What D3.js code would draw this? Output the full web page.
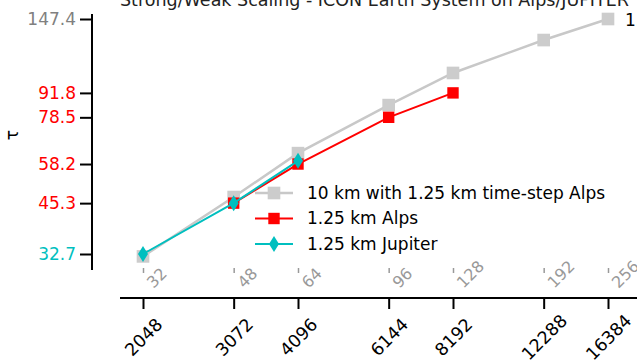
<html>
<head>
<script src="https://d3js.org/d3.v7.min.js"></script>
<style>
  body { margin: 0; background: #fff; }
  text { font-family: "DejaVu Sans", sans-serif; }
</style>
</head>
<body>
<svg width="637" height="361"></svg>
<script>
const cores = [2048, 3072, 4096, 6144, 8192, 12288, 16384];
const nodes = [32, 48, 64, 96, 128, 192, 256];
const refTau = [32.2, 47.1, 62.4, 84.9, 104.3, 128.8, 147.4];
const alpsCores = [3072, 4096, 6144, 8192];
const alpsTau = [45.3, 58.2, 78.5, 91.8];
const jupCores = [2048, 3072, 4096];
const jupTau = [32.7, 45.3, 59.4];
const yTicks = [147.4, 91.8, 78.5, 58.2, 45.3, 32.7];
const yTickColor = ['#808080', 'red', 'red', 'red', 'red', '#00bfbf'];

const svg = d3.select('svg');
const x = d3.scaleLog().base(2).domain([2048, 16384]).range([143, 608]);
const y = d3.scaleLog().domain([32.7, 147.4]).range([254, 19]);

// title, mostly cut off at the top
svg.append('text').attr('x', 120).attr('y', 5.5)
  .style('font-size', '17.5px').style('fill', '#222')
  .text('Strong/Weak Scaling - ICON Earth System on Alps/JUPITER');

// y axis
const ya = svg.append('g').attr('transform', 'translate(92,0)')
  .call(d3.axisLeft(y).tickValues(yTicks).tickFormat(d3.format('.1f')).tickSize(12).tickPadding(4));
ya.select('.domain').attr('d', 'M0,14V270').attr('stroke-width', 2);
ya.selectAll('.tick line').attr('stroke-width', 2);
ya.selectAll('.tick text').style('font-size', '17px')
  .attr('fill', (d, i) => yTickColor[i]);

svg.append('text').attr('transform', 'translate(18,135) rotate(-90)')
  .style('font-size', '17px').attr('text-anchor', 'middle').text('τ');

// bottom x axis
const xa = svg.append('g').attr('transform', 'translate(0,298)')
  .call(d3.axisBottom(x).tickValues(cores).tickFormat(d3.format('d')).tickSize(11));
xa.select('.domain').attr('d', 'M120,0H637').attr('stroke-width', 2);
xa.selectAll('.tick line').attr('stroke-width', 2);
xa.selectAll('.tick text').style('font-size', '17.5px')
  .attr('text-anchor', 'middle').attr('y', 0).attr('dy', '0.36em')
  .attr('transform', 'translate(0,39) rotate(-45)');

// secondary node labels
const nx = d3.scaleLog().base(2).domain([32, 256]).range(x.range());
const na = svg.append('g').attr('transform', 'translate(0,268)')
  .call(d3.axisBottom(nx).tickValues(nodes).tickFormat(d3.format('d')).tickSize(5).tickPadding(0));
na.select('.domain').remove();
na.selectAll('.tick line').attr('stroke', '#999').attr('stroke-width', 1.5);
na.selectAll('.tick text').style('font-size', '16px').attr('fill', '#999')
  .attr('text-anchor', 'start').attr('dy', null).attr('y', 0)
  .attr('transform', 'translate(10,21) rotate(-45)');

const line = d3.line().x(d => x(d[0])).y(d => y(d[1]));
const sq = d3.symbol().type(d3.symbolSquare);

// 10 km reference
const refPts = cores.map((c, i) => [c, refTau[i]]);
svg.append('path').datum(refPts).attr('d', line)
  .attr('fill', 'none').attr('stroke', '#c8c8c8').attr('stroke-width', 2.5);
svg.selectAll('.ref').data(refPts).join('path').attr('class', 'ref')
  .attr('transform', d => `translate(${x(d[0])},${y(d[1])})`)
  .attr('d', sq.size(160)).attr('fill', '#cccccc');

// Alps
const alpsPts = alpsCores.map((c, i) => [c, alpsTau[i]]);
svg.append('path').datum(alpsPts).attr('d', line)
  .attr('fill', 'none').attr('stroke', 'red').attr('stroke-width', 2);
svg.selectAll('.alps').data(alpsPts).join('path').attr('class', 'alps')
  .attr('transform', d => `translate(${x(d[0])},${y(d[1])})`)
  .attr('d', sq.size(130)).attr('fill', 'red');

// Jupiter
const diamond = 'M0,-8L5,0L0,8L-5,0Z';
const jupPts = jupCores.map((c, i) => [c, jupTau[i]]);
svg.append('path').datum(jupPts).attr('d', line)
  .attr('fill', 'none').attr('stroke', '#00bfbf').attr('stroke-width', 2);
svg.selectAll('.jup').data(jupPts).join('path').attr('class', 'jup')
  .attr('transform', d => `translate(${x(d[0])},${y(d[1])})`)
  .attr('d', diamond).attr('fill', '#00bfbf');

// clipped annotation at top right
svg.append('text').attr('x', 625).attr('y', 26)
  .style('font-size', '17px').text('1.25 km');

// legend
const legend = [
  { label: '10 km with 1.25 km time-step Alps', color: '#c8c8c8', mk: '#cccccc', size: 160, w: 2.5 },
  { label: '1.25 km Alps', color: 'red', mk: 'red', size: 130, w: 2 },
  { label: '1.25 km Jupiter', color: '#00bfbf', mk: '#00bfbf', size: 0, w: 2 }
];
const lg = svg.append('g').attr('transform', 'translate(255,193)');
legend.forEach((d, i) => {
  const g = lg.append('g').attr('transform', `translate(0,${i * 25.5})`);
  g.append('line').attr('x1', 0).attr('x2', 38).attr('stroke', d.color).attr('stroke-width', d.w);
  g.append('path').attr('transform', 'translate(19,0)')
    .attr('d', d.size ? sq.size(d.size)() : diamond)
    .attr('fill', d.mk);
  g.append('text').attr('x', 52).attr('dy', '0.35em').style('font-size', '17px').text(d.label);
});
</script>
</body>
</html>
